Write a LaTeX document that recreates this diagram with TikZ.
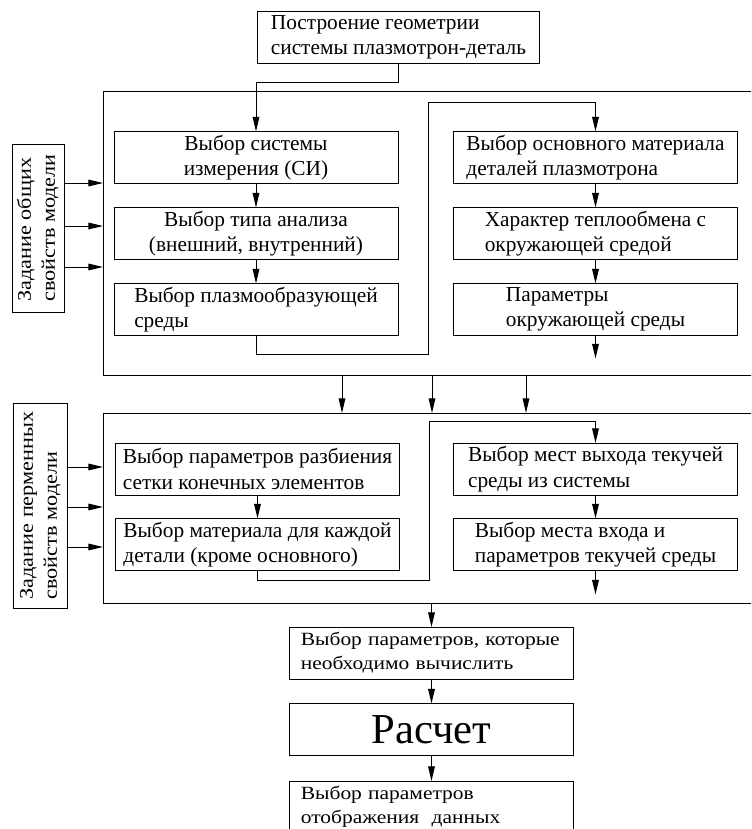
\documentclass[tikz,border=0pt]{standalone}
\usepackage{fontspec}
\setmainfont{Liberation Serif}
\newfontfamily\widefont[FakeStretch=1.15]{Liberation Serif}
\usetikzlibrary{arrows.meta}

\tikzset{every picture/.style={line width=0.75pt}}
\tikzset{
    blk/.style={draw, minimum width=213pt, minimum height=39pt, inner sep=1pt, outer sep=0pt, align=left, font=\fontsize{16}{19}\selectfont},
    blkw/.style={blk, text width=196pt, font=\widefont\fontsize{14}{18}\selectfont},
    frm/.style={draw, anchor=north west, minimum width=500pt, inner sep=0pt, outer sep=0pt},
    lbl/.style={draw, inner sep=0pt, outer sep=0pt, font=\widefont\fontsize{14.5}{18}\selectfont},
    arr/.style={-{Triangle[length=11pt,width=5pt]}}
}

\begin{document}
\begin{tikzpicture}[x=0.75pt,y=0.75pt,yscale=-1,xscale=1]
    \useasboundingbox (0,0) rectangle (751,829);
    \clip (0,0) rectangle (751,829);

    %Shape: Rectangle [frames]
    \node[frm, minimum height=213pt] (frmA) at (103,91) {};
    \node[frm, minimum height=142.5pt] (frmB) at (103,413) {};

    % Text Node
    \node[blk, minimum width=212pt] (geom) at (398.5,37.5) {Построение геометрии\\системы плазмотрон-деталь};
    % Text Node
    \node[lbl, minimum width=39pt, minimum height=126pt] (lblA) at (38,228) {\rotatebox{90}{\begin{tabular}{@{}l@{}}Задание общих\\свойств модели\end{tabular}}};
    \node[lbl, minimum width=40.5pt, minimum height=153.75pt] (lblB) at (40,505.5) {\rotatebox{90}{\begin{tabular}{@{}l@{}}Задание перменных\\свойств модели\end{tabular}}};

    % Text Node [general properties]
    \node[blk, align=center] (units) at (256,157.5) {Выбор системы\\измерения (СИ)};
    \node[blk, align=center] (anal) at (256,233.5) {Выбор типа анализа\\(внешний, внутренний)};
    \node[blk] (plasma) at (256,309.5) {Выбор плазмообразующей\\среды};
    \node[blk] (matbase) at (595.5,157.5) {Выбор основного материала\\деталей плазмотрона};
    \node[blk] (heat) at (595.5,233.5) {Характер теплообмена с\\окружающей средой};
    \node[blk] (envpar) at (595.5,309.5) {Параметры\\окружающей среды};

    % Text Node [variable properties]
    \node[blk] (mesh) at (257.5,469) {Выбор параметров разбиения\\сетки конечных элементов};
    \node[blk] (mater) at (257.5,544.5) {Выбор материала для каждой\\детали (кроме основного)};
    \node[blk] (outlet) at (595.5,469) {Выбор мест выхода текучей\\среды из системы};
    \node[blk] (inlet) at (595.5,544.5) {Выбор места входа и\\параметров текучей среды};

    % Text Node [solution]
    \node[blkw] (outpar) at (431.5,653) {Выбор параметров, которые\\необходимо вычислить};
    \node[blk, font=\fontsize{32}{36}\selectfont] (calc) at (431.5,729.5) {Расчет};
    \node[blkw] (view) at (431.5,807) {Выбор параметров\\отображения\ \ данных};

    %Straight Lines
    \coordinate (bendA) at (428,354);
    \coordinate (bendB) at (428,102);
    \coordinate (bendC) at (429,580);
    \coordinate (bendD) at (429,421);
    \draw[arr] (geom.south) -- ++(0,19) -| (units.north);
    \draw[arr] (units.south) -- (anal.north);
    \draw[arr] (anal.south) -- (plasma.north);
    \draw[arr] (plasma.south) |- (bendA) -- (bendB) -| (matbase.north);
    \draw[arr] (matbase.south) -- (heat.north);
    \draw[arr] (heat.south) -- (envpar.north);
    \draw[arr] (envpar.south) -- ++(0,23);
    \draw[arr] (mesh.south) -- (mater.north);
    \draw[arr] (mater.south) |- (bendC) -- (bendD) -| (outlet.north);
    \draw[arr] (outlet.south) -- (inlet.north);
    \draw[arr] (inlet.south) -- ++(0,24);

    %Straight Lines [between blocks]
    \foreach \y in {183,226,267} \draw[arr] (lblA.east |- 0,\y) -- (frmA.west |- 0,\y);
    \foreach \y in {467,507,547} \draw[arr] (lblB.east |- 0,\y) -- (frmB.west |- 0,\y);
    \foreach \x in {342,432,526} \draw[arr] (frmA.south -| \x,0) -- (frmB.north -| \x,0);
    \draw[arr] (frmB.south -| outpar.north) -- (outpar.north);
    \draw[arr] (outpar.south) -- (calc.north);
    \draw[arr] (calc.south) -- (view.north);

\end{tikzpicture}
\end{document}
